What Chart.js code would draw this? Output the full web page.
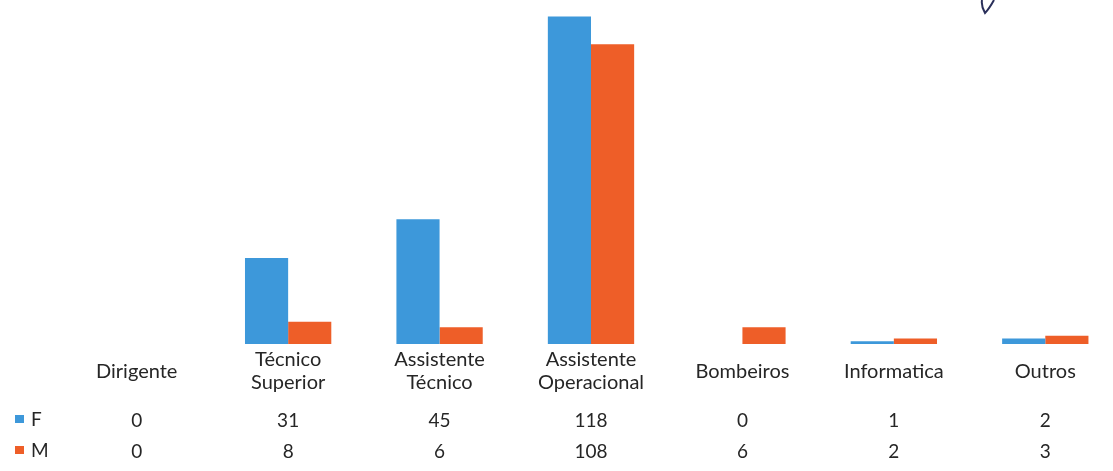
<!DOCTYPE html>
<html>
<head>
<meta charset="utf-8">
<script src="https://cdn.jsdelivr.net/npm/chart.js@4"></script>
<style>
  html, body { margin: 0; padding: 0; background: #ffffff; overflow: hidden; }
  #wrap { position: relative; width: 1125px; height: 471px; }
</style>
</head>
<body>
<div id="wrap"><canvas id="c"></canvas></div>
<script>
const categories = [
  ['Dirigente'],
  ['Técnico', 'Superior'],
  ['Assistente', 'Técnico'],
  ['Assistente', 'Operacional'],
  ['Bombeiros'],
  ['Informatica'],
  ['Outros']
];
const seriesNames = ['F', 'M'];
const valuesF = [0, 31, 45, 118, 0, 1, 2];
const valuesM = [0, 8, 6, 108, 6, 2, 3];
const colorF = '#3d98da';
const colorM = '#ee5e28';
const textColor = '#262626';
const fontFamily = 'Lato, "Open Sans", sans-serif';

const tablePlugin = {
  id: 'dataTable',
  afterDraw(chart) {
    const ctx = chart.ctx;
    const xs = chart.scales.x;
    const rows = [
      { name: seriesNames[0], vals: valuesF, color: colorF, y: 421 },
      { name: seriesNames[1], vals: valuesM, color: colorM, y: 452 }
    ];
    ctx.save();
    ctx.font = '19px ' + fontFamily;
    ctx.fillStyle = textColor;
    ctx.textBaseline = 'middle';
    rows.forEach(r => {
      ctx.fillStyle = r.color;
      ctx.fillRect(15, r.y - 6, 9, 8);
      ctx.fillStyle = textColor;
      ctx.textAlign = 'left';
      ctx.fillText(r.name, 31, r.y - 1);
      ctx.textAlign = 'center';
      r.vals.forEach((v, i) => {
        ctx.fillText(String(v), xs.getPixelForValue(i), r.y);
      });
    });
    // handwritten pen mark at top right
    ctx.strokeStyle = '#2a2f5a';
    ctx.lineWidth = 2;
    ctx.beginPath();
    ctx.moveTo(994, 0);
    ctx.quadraticCurveTo(989, 9, 985, 13);
    ctx.quadraticCurveTo(981, 6, 982, 0);
    ctx.stroke();
    ctx.restore();
  }
};

new Chart(document.getElementById('c'), {
  type: 'bar',
  data: {
    labels: categories,
    datasets: [
      { label: seriesNames[0], data: valuesF, backgroundColor: colorF, borderWidth: 0 },
      { label: seriesNames[1], data: valuesM, backgroundColor: colorM, borderWidth: 0 }
    ]
  },
  options: {
    responsive: true,
    maintainAspectRatio: false,
    animation: false,
    layout: { padding: { left: 61, right: 4, top: 11, bottom: 0 } },
    plugins: { legend: { display: false }, tooltip: { enabled: false } },
    datasets: { bar: { categoryPercentage: 0.57, barPercentage: 1.0 } },
    scales: {
      x: {
        grid: { display: false, drawTicks: false },
        border: { display: false },
        afterFit(scale) { scale.height = 127; },
        ticks: {
          color: textColor,
          font: { family: fontFamily, size: 20, lineHeight: 1.15 },
          crossAlign: 'center',
          padding: 16,
          maxRotation: 0,
          autoSkip: false
        }
      },
      y: {
        display: false,
        min: 0,
        max: 120
      }
    }
  },
  plugins: [tablePlugin]
});
</script>
</body>
</html>
